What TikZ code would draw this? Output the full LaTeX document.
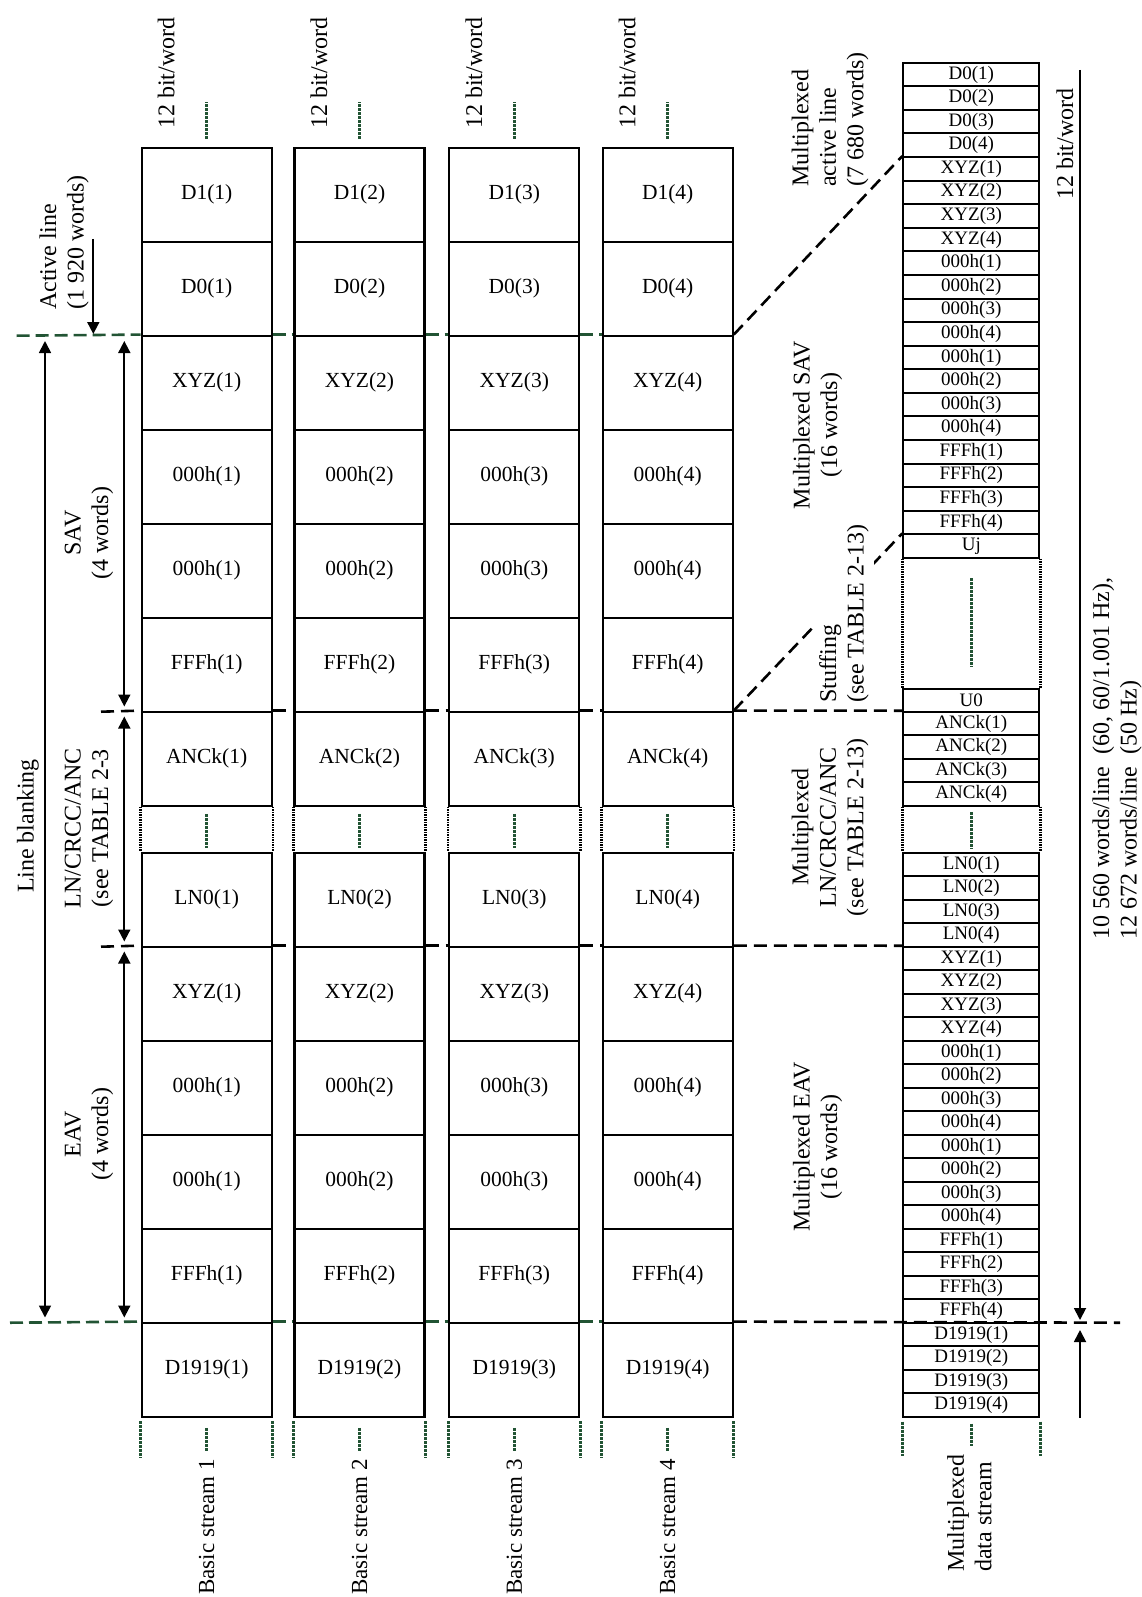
\documentclass[tikz,border=0pt]{standalone}
\usepackage{fontspec}
\setmainfont{Liberation Serif}
\usetikzlibrary{arrows.meta,calc}
\definecolor{gmk}{RGB}{34,84,52}
\begin{document}
\begin{tikzpicture}[x=1pt,y=-1pt,
  cell/.style={draw, line width=2.2pt, minimum width=130pt, minimum height=94pt, inner sep=0pt, font=\fontsize{21.5}{24}\selectfont},
  mcell/.style={draw, line width=2pt, minimum width=136pt, inner sep=0pt, font=\fontsize{19}{21}\selectfont},
  lab/.style={inner sep=0pt, font=\fontsize{24}{27.5}\selectfont},
  gmark/.style={draw=gmk, line width=3pt, dash pattern=on 3pt off 1pt},
  dotside/.style={draw=black, line width=2.5pt, dash pattern=on 1.5pt off 1pt},
  gdash/.style={draw=gmk, line width=2.6pt, dash pattern=on 13pt off 6pt},
  bdash/.style={draw=black, line width=2.6pt, dash pattern=on 13pt off 7pt},
  arr/.style={draw=black, line width=1.8pt, -{Triangle[width=12pt,length=12pt]}},
  darr/.style={draw=black, line width=1.8pt, {Triangle[width=12pt,length=12pt]}-{Triangle[width=12pt,length=12pt]}},
]
\useasboundingbox (0,0) rectangle (1141,1597);

% free-end coordinates
\coordinate (gA) at (16.7,335.7);
\coordinate (gB) at (10,1322.7);
\coordinate (bA) at (101,711.7);
\coordinate (bB) at (101,946.7);
\coordinate (bC) at (1120,1322.7);

% ---------- mux column ----------
\foreach \lab [count=\k from 0] in {D0(1),D0(2),D0(3),D0(4),XYZ(1),XYZ(2),XYZ(3),XYZ(4),000h(1),000h(2),000h(3),000h(4),000h(1),000h(2),000h(3),000h(4),FFFh(1),FFFh(2),FFFh(3),FFFh(4)}
  \node[mcell, minimum height=23.58pt] (ma\k) at (971.3,{62.7+23.58*(\k+0.5)}) {\lab};
\node[mcell, minimum height=23.6pt] (muj) at (971.3,546.1) {Uj};
\node[mcell, minimum height=22.7pt] (mu0) at (971.3,700.35) {U0};
\foreach \k in {1,...,4}
  \node[mcell, minimum height=23.5pt] (mb\k) at (971.3,{711.7+23.5*(\k-0.5)}) {ANCk(\k)};
\foreach \k in {1,...,4}
  \node[mcell, minimum height=23.5pt] (mc\k) at (971.3,{852.7+23.5*(\k-0.5)}) {LN0(\k)};
\foreach \lab [count=\k from 0] in {XYZ(1),XYZ(2),XYZ(3),XYZ(4),000h(1),000h(2),000h(3),000h(4),000h(1),000h(2),000h(3),000h(4),FFFh(1),FFFh(2),FFFh(3),FFFh(4)}
  \node[mcell, minimum height=23.5pt] (md\k) at (971.3,{946.7+23.5*(\k+0.5)}) {\lab};
\foreach \k in {1,...,4}
  \node[mcell, minimum height=23.5pt] (me\k) at (971.3,{1322.7+23.5*(\k-0.5)}) {D1919(\k)};

% mux dotted blocks
\draw[dotside] (muj.south west) -- (mu0.north west);
\draw[dotside] (muj.south east) -- (mu0.north east);
\draw[gmark] (971.3,578) -- (971.3,667);
\draw[dotside] (mb4.south west) -- (mc1.north west);
\draw[dotside] (mb4.south east) -- (mc1.north east);
\draw[gmark] (971.3,812) -- (971.3,849);
% mux bottom marks
\draw[gmark] ($(me4.south west)+(0,4)$) -- ++(0,34);
\draw[gmark] ($(me4.south east)+(0,4)$) -- ++(0,34);
\draw[gmark] ($(me4.south)+(0,6)$) -- ++(0,22);

% ---------- basic streams ----------
\foreach \i/\cx in {1/206.7,2/359.5,3/514.3,4/667.7} {
  \foreach \j/\yc/\lab in {1/194.7/D1,2/288.7/D0,3/382.7/XYZ,4/476.7/000h,5/570.7/000h,6/664.7/FFFh,7/758.7/ANCk,9/899.7/LN0,10/993.7/XYZ,11/1087.7/000h,12/1181.7/000h,13/1275.7/FFFh,14/1369.7/D1919}
    \node[cell] (s\i r\j) at (\cx,\yc) {\lab(\i)};
  \draw[dotside] (s\i r7.south west) -- (s\i r9.north west);
  \draw[dotside] (s\i r7.south east) -- (s\i r9.north east);
  \draw[gmark] ($(s\i r7.south)+(0,7)$) -- ($(s\i r9.north)+(0,-4)$);
  \draw[gmark] ($(s\i r1.north)+(0,-7.7)$) -- ++(0,-37);
  \draw[gmark] ($(s\i r14.south west)+(0,3.3)$) -- ++(0,36.7);
  \draw[gmark] ($(s\i r14.south east)+(0,3.3)$) -- ++(0,36.7);
  \draw[gmark] ($(s\i r14.south)+(0,10)$) -- ++(0,23.3);
  \node[lab, rotate=90, anchor=west] (tl\i) at ($(s\i r1.north)+(-40.5,-17.7)$) {12 bit/word};
  \node[lab, rotate=90, anchor=east, font=\fontsize{23}{27.5}\selectfont] (bl\i) at ($(s\i r14.south)+(0,41.3)$) {Basic stream \i};
}

% dashed separators across the gaps
\draw[gdash] (gA) -- (s1r3.north west);
\foreach \a/\b in {1/2,2/3,3/4} {
  \draw[gdash] (s\a r3.north east) -- (s\b r3.north west);
  \draw[gdash] (s\a r14.north east) -- (s\b r14.north west);
  \draw[bdash] (s\a r7.north east) -- (s\b r7.north west);
  \draw[bdash] (s\a r10.north east) -- (s\b r10.north west);
}
\draw[gdash] (gB) -- (s1r14.north west);
\draw[bdash] (bA) -- (s1r7.north west);
\draw[bdash] (bB) -- (s1r10.north west);

% diagonals and links to the mux
\draw[bdash] (s4r3.north east) -- (ma4.north west);
\draw[bdash] (s4r7.north east) -- (muj.north west);
\node[lab, rotate=90, anchor=west, align=left, fill=white, inner sep=5pt] (stuff) at (844,708) {Stuffing\\(see TABLE 2-13)};
\draw[bdash] (s4r7.north east) -- (mb1.north west);
\draw[bdash] (s4r10.north east) -- (md0.north west);
\draw[bdash] (s4r14.north east) -- (bC);

% ---------- left arrows and labels ----------
\coordinate (a1s) at (93.3,239);
\coordinate (a1e) at (93.3,334);
\draw[arr] (a1s) -- (a1e);
\node[lab, rotate=90, anchor=west, align=left] (actl) at (64,310) {Active line\\(1 920 words)};

\coordinate (lbA) at (45,341);
\coordinate (lbB) at (45,1317.5);
\draw[darr] (lbA) -- (lbB);
\node[lab, rotate=90] (lblank) at (28,826) {Line blanking};

\coordinate (sv1) at (124.3,341);
\coordinate (sv2) at (124.3,706.5);
\coordinate (ln1) at (124.3,716.5);
\coordinate (ln2) at (124.3,941.5);
\coordinate (ev1) at (124.3,951.5);
\coordinate (ev2) at (124.3,1317.5);
\draw[darr] (sv1) -- (sv2);
\draw[darr] (ln1) -- (ln2);
\draw[darr] (ev1) -- (ev2);
\node[lab, rotate=90, align=center] (savl) at (89,533) {SAV\\(4 words)};
\node[lab, rotate=90, align=center] (lnl) at (89,828) {LN/CRCC/ANC\\(see TABLE 2-3};
\node[lab, rotate=90, align=center] (eavl) at (89,1134) {EAV\\(4 words)};

% ---------- right-hand labels ----------
\node[lab, rotate=90, anchor=west, align=left] (mact) at (830,187) {Multiplexed\\active line\\(7 680 words)};
\node[lab, rotate=90, align=center] (msav) at (817.5,425) {Multiplexed SAV\\(16 words)};
\node[lab, rotate=90, align=center] (mln) at (830,827) {Multiplexed\\LN/CRCC/ANC\\(see TABLE 2-13)};
\node[lab, rotate=90, align=center] (meav) at (817.5,1147) {Multiplexed EAV\\(16 words)};
\node[lab, rotate=90, anchor=west, align=left] (mds) at (969.5,1572) {Multiplexed\\data stream};

\node[lab, rotate=90, anchor=west] (rbit) at (1065,200) {12 bit/word};
\coordinate (rtop) at (1080,70);
\coordinate (rmid) at (1080,1320);
\coordinate (rmid2) at (1080,1330);
\coordinate (rbot) at (1080,1418);
\draw[arr] (rtop) -- (rmid);
\draw[arr] (rbot) -- (rmid2);
\node[lab, rotate=90, anchor=west, align=left] (wpl) at (1117,940) {10 560 words/line\ \ (60, 60/1.001 Hz),\\12 672 words/line\ \ (50 Hz)};
\end{tikzpicture}
\end{document}
